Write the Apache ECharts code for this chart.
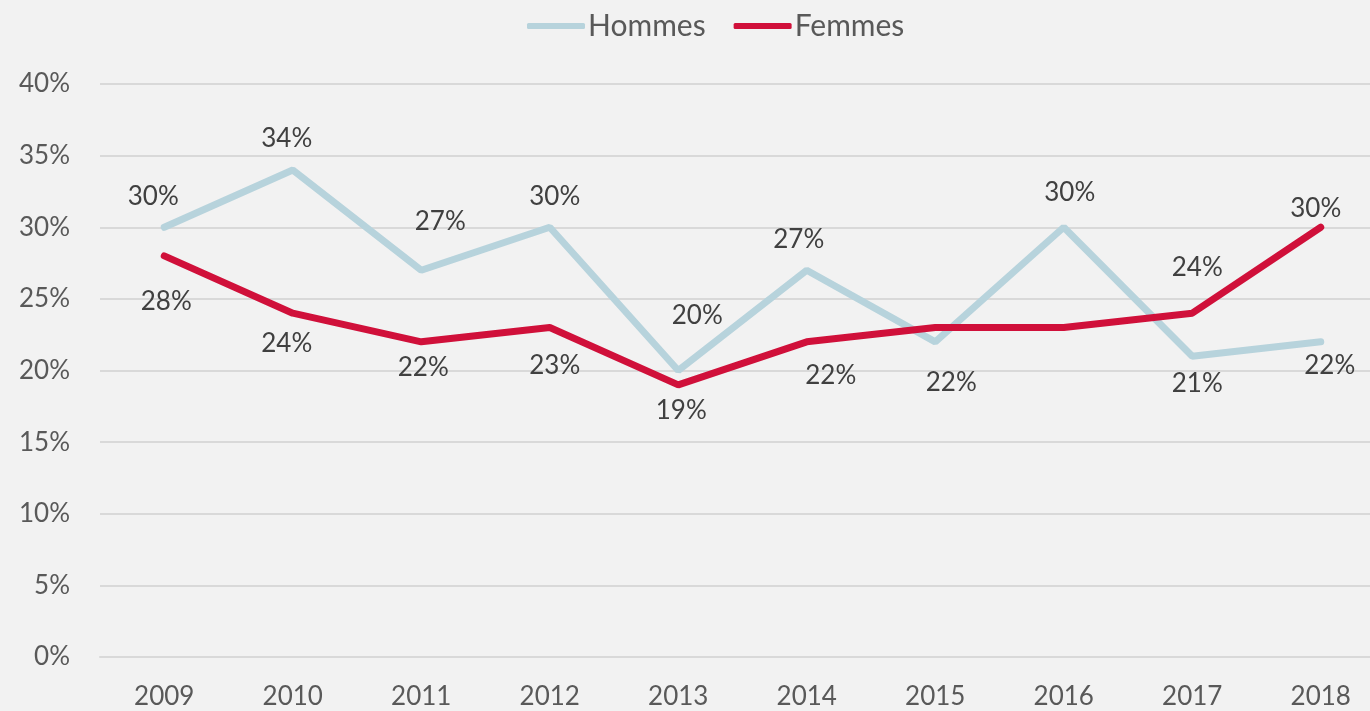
<!DOCTYPE html>
<html>
<head>
<meta charset="utf-8">
<script src="https://cdn.jsdelivr.net/npm/echarts@6/dist/echarts.min.js"></script>
<style>
  html, body { margin: 0; padding: 0; background: #f2f2f2; }
  #chart { width: 1370px; height: 711px; }
</style>
</head>
<body>
<div id="chart"></div>
<script>
const years = ['2009', '2010', '2011', '2012', '2013', '2014', '2015', '2016', '2017', '2018'];
const hommes = [30, 34, 27, 30, 20, 27, 22, 30, 21, 22];
const femmes = [28, 24, 22, 23, 19, 22, 23, 23, 24, 30];

// placement des étiquettes (décalage x, y en px) ; null = pas d'étiquette
const hommesLabelOffset = [[-11, -31], [-6, -31], [19, -49], [5, -31], [19, -55], [-8, -31], [16, 41], [6, -35], [5, 27], [9, 24]];
const femmesLabelOffset = [[2, 46], [-6, 30], [2, 26], [5, 38], [3, 26], [24, 34], null, null, [5, -46], [-5, -19]];

const font = 'Lato, "Open Sans", sans-serif';

const withLabels = (values, offsets) => values.map((v, i) => ({
  value: v,
  label: offsets[i]
    ? { show: true, position: 'inside', offset: offsets[i] }
    : { show: false }
}));

const chart = echarts.init(document.getElementById('chart'));
chart.setOption({
  backgroundColor: '#f2f2f2',
  textStyle: { fontFamily: font },
  legend: {
    top: 6,
    left: 522,
    itemWidth: 58,
    itemHeight: 6,
    itemGap: 28,
    icon: 'roundRect',
    textStyle: { fontSize: 30, color: '#595959', fontFamily: font, padding: [0, 0, 0, -2] },
    data: ['Hommes', 'Femmes']
  },
  grid: { left: 100, right: -15, top: 84, bottom: 54, outerBoundsMode: 'none' },
  xAxis: {
    type: 'category',
    data: years,
    boundaryGap: true,
    axisTick: { show: false },
    axisLine: { show: true, lineStyle: { color: '#d9d9d9', width: 2 } },
    axisLabel: { fontSize: 26, color: '#595959', margin: 27, fontFamily: font }
  },
  yAxis: {
    type: 'value',
    min: 0,
    max: 40,
    interval: 5,
    axisLabel: { fontSize: 26, color: '#595959', margin: 30, formatter: '{value}%', fontFamily: font },
    splitLine: { lineStyle: { color: '#d9d9d9', width: 2 } },
    axisLine: { show: false },
    axisTick: { show: false }
  },
  series: [
    {
      name: 'Hommes',
      type: 'line',
      data: withLabels(hommes, hommesLabelOffset),
      symbol: 'circle',
      symbolSize: 0,
      color: '#b7d3dc',
      lineStyle: { width: 7, color: '#b7d3dc', cap: 'round' },
      label: { fontSize: 26, color: '#404040', formatter: '{c}%', fontFamily: font },
      animation: false
    },
    {
      name: 'Femmes',
      type: 'line',
      data: withLabels(femmes, femmesLabelOffset),
      symbol: 'circle',
      symbolSize: 0,
      color: '#d0103a',
      lineStyle: { width: 7, color: '#d0103a', cap: 'round' },
      label: { fontSize: 26, color: '#404040', formatter: '{c}%', fontFamily: font },
      animation: false
    }
  ]
});
window.addEventListener('resize', () => chart.resize());
</script>
</body>
</html>
